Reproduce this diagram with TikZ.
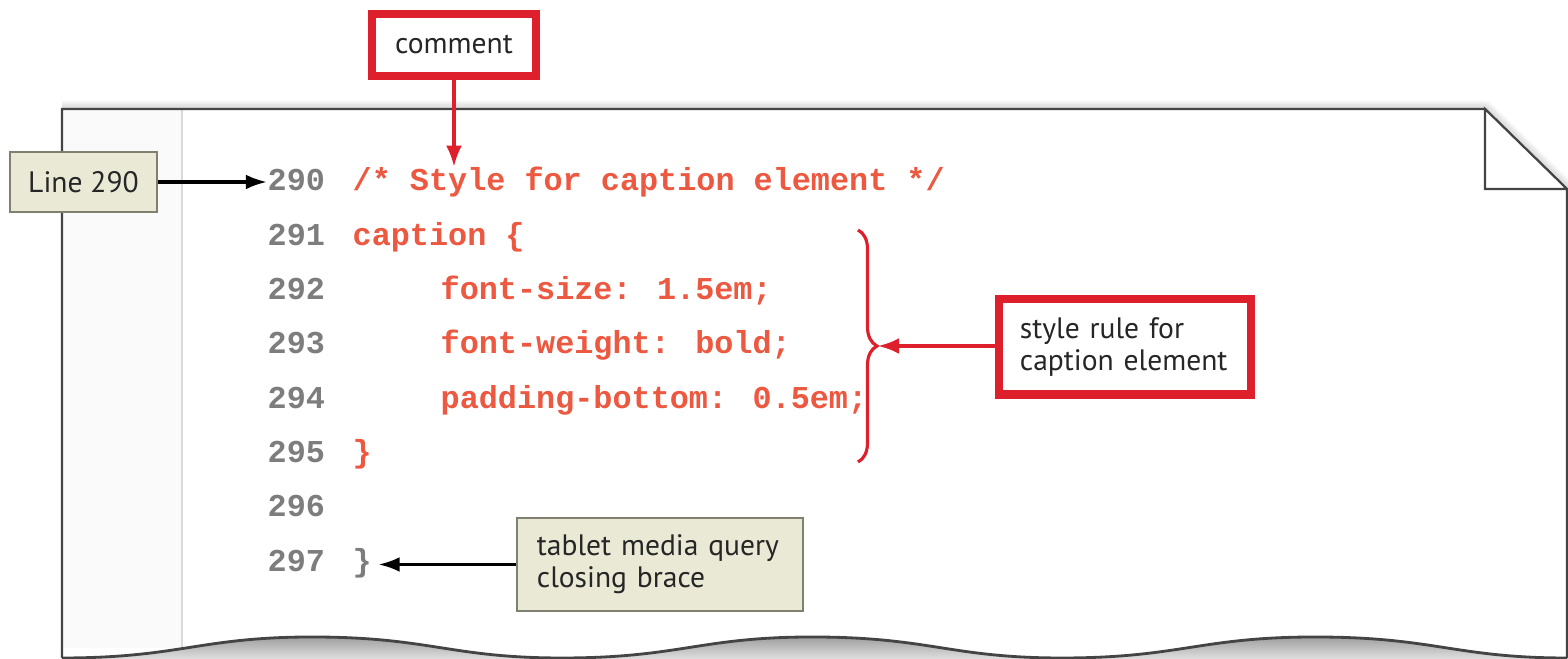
\documentclass[tikz,border=0pt]{standalone}
\usepackage{fontspec}
\setmainfont{PT Sans}
\newfontfamily\codefont{Liberation Mono}
\usetikzlibrary{arrows.meta,decorations.pathreplacing}
\definecolor{callred}{RGB}{222,32,44}
\definecolor{codered}{RGB}{236,88,64}
\definecolor{numgray}{RGB}{125,125,125}
\definecolor{notefill}{RGB}{234,233,214}
\definecolor{noteline}{RGB}{128,128,112}
\definecolor{paperline}{RGB}{68,68,68}
\tikzset{
  labelfont/.style={font=\fontsize{8.4}{9.1}\selectfont, text=black!85},
  redbox/.style={labelfont, draw=callred, line width=2.3pt, fill=white, inner sep=0pt, align=left},
  notebox/.style={labelfont, draw=noteline, line width=0.6pt, fill=notefill, inner sep=0pt, align=left},
  linenum/.style={anchor=base west, inner sep=0pt, text=numgray, font=\codefont\bfseries\fontsize{9.05}{10}\selectfont},
  codeline/.style={linenum, text=codered},
  redarrow/.style={draw=callred, line width=0.9pt, -{Latex[length=6pt,width=4.5pt]}},
  blackarrow/.style={draw=black, line width=0.9pt, -{Latex[length=6pt,width=4.2pt]}}
}
\begin{document}
\begin{tikzpicture}[x=0.01cm,y=-0.01cm]
                \useasboundingbox (0,0) rectangle (1568,659);
                \foreach \w in {1,2,...,7}
                    \draw[black, opacity=0.022, line width=\w*0.7pt, line join=round] (62,109) -- (1485,109) -- (1567,189);
                \fill[white] (62,658) -- (62,109) -- (1485,109) -- (1567,189) -- (1567,658) -- cycle;
                \fill[gray!4] (62,110) rectangle (182,648);
                \draw[gray!30, line width=0.5pt] (182,110) -- (182,648);
                \draw[paperline, line width=0.6pt] (62,658) -- (62,109) -- (1485,109) -- (1567,189) -- (1567,658);
                \draw[paperline, line width=0.6pt, fill=white] (1485,109) -- (1485,189) -- (1567,189) -- cycle;
                \fill[top color=gray!75, bottom color=gray!25] (62,659) -- (62,658)
                    .. controls (180,658) and (200,637) .. (312,637)
                    .. controls (430,637) and (450,658) .. (562,658)
                    .. controls (680,658) and (700,637) .. (812,637)
                    .. controls (930,637) and (950,658) .. (1062,658)
                    .. controls (1180,658) and (1200,637) .. (1315,637)
                    .. controls (1435,637) and (1455,658) .. (1567,658) -- (1567,659) -- cycle;
                \draw[paperline, line width=0.8pt] (62,658)
                    .. controls (180,658) and (200,637) .. (312,637)
                    .. controls (430,637) and (450,658) .. (562,658)
                    .. controls (680,658) and (700,637) .. (812,637)
                    .. controls (930,637) and (950,658) .. (1062,658)
                    .. controls (1180,658) and (1200,637) .. (1315,637)
                    .. controls (1435,637) and (1455,658) .. (1567,658);
                \foreach \n [count=\i from 0] in {290,...,297}
                    \node[linenum] (n\n) at (267,{191+54.3*\i}) {\n};
                \node[codeline] (c290) at (352,191) {/* Style for caption element */};
                \node[codeline] (c291) at (352,245.3) {caption \{};
                \node[codeline] (c292) at (440,299.6) {font-size: 1.5em;};
                \node[codeline] (c293) at (440,353.9) {font-weight: bold;};
                \node[codeline] (c294) at (440,408.2) {padding-bottom: 0.5em;};
                \node[codeline] (c295) at (352,462.5) {\}};
                \node[linenum] (c297) at (352,571.1) {\}};
                \draw[callred, line width=0.9pt, decorate, decoration={brace, amplitude=0.19cm}] (858,230) -- (858,462);
                \coordinate (bracetip) at (878,346);
                \node[redbox, minimum width=1.64cm, minimum height=0.62cm, align=center] (comment) at (454,45) {comment};
                \node[redbox, inner xsep=0.21cm, text width=2.10cm, minimum height=0.95cm] (rule) at (1125,347) {style rule for\\caption element};
                \node[notebox, minimum width=1.47cm, minimum height=0.60cm, align=center] (line290) at (83.5,182) {Line 290};
                \node[notebox, inner xsep=0.20cm, text width=2.46cm, minimum height=0.93cm] (tablet) at (660,564.5) {tablet media query\\closing brace};
                \draw[redarrow] (comment.south) -- (comment.south |- c290.north);
                \draw[redarrow] (rule.west |- bracetip) -- (bracetip);
                \draw[blackarrow] (line290.east) -- (line290.east -| n290.west);
                \draw[blackarrow, shorten >=1.7pt] (tablet.west) -- (tablet.west -| c297.east);
            \end{tikzpicture}
\end{document}
